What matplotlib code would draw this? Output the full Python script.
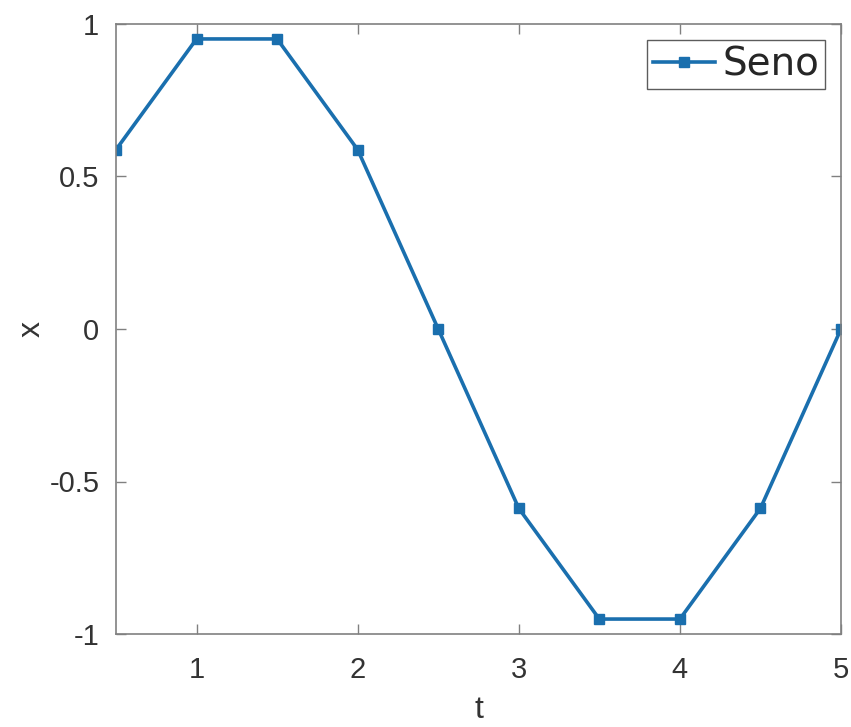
import matplotlib
matplotlib.use("Agg")
import matplotlib.pyplot as plt

t = [0.5, 1.0, 1.5, 2.0, 2.5, 3.0, 3.5, 4.0, 4.5, 5.0]
x = [0.588, 0.951, 0.951, 0.588, 0.0, -0.588, -0.951, -0.951, -0.588, 0.0]
xticks = [1, 2, 3, 4, 5]
yticks = [-1, -0.5, 0, 0.5, 1]
yticklabels = ["-1", "-0.5", "0", "0.5", "1"]

plt.rcParams["font.family"] = ["Liberation Sans", "DejaVu Sans"]

fig = plt.figure(figsize=(8.51, 7.27), dpi=100)
ax = fig.add_axes([116 / 851, 1 - 634 / 727, 725 / 851, 610 / 727])

ax.plot(t, x, color="#1a6fae", lw=2.6, marker="s", ms=6.5, label="Seno")

ax.set_xlim(0.5, 5)
ax.set_ylim(-1, 1)
ax.set_xticks(xticks)
ax.set_yticks(yticks)
ax.set_yticklabels(yticklabels)
ax.tick_params(direction="in", top=True, right=True, length=7, width=1,
               colors="#808080", labelcolor="#333333", labelsize=21)
ax.tick_params(axis="x", pad=16)
ax.tick_params(axis="y", pad=12)
for s in ax.spines.values():
    s.set_color("#808080")
    s.set_linewidth(1.2)

ax.set_xlabel("t", fontsize=23, color="#333333", labelpad=8)
ax.set_ylabel("x", fontsize=23, color="#333333", labelpad=2)

leg = ax.legend(loc="upper right", prop={"family": "DejaVu Sans", "size": 28},
                frameon=True, fancybox=False, handlelength=1.6, handletextpad=0.2,
                borderpad=0.15, borderaxespad=0.4)
leg.get_frame().set_edgecolor("#333333")
leg.get_frame().set_linewidth(1.0)
for txt in leg.get_texts():
    txt.set_color("#262626")

fig.savefig("out.png", dpi=100)
